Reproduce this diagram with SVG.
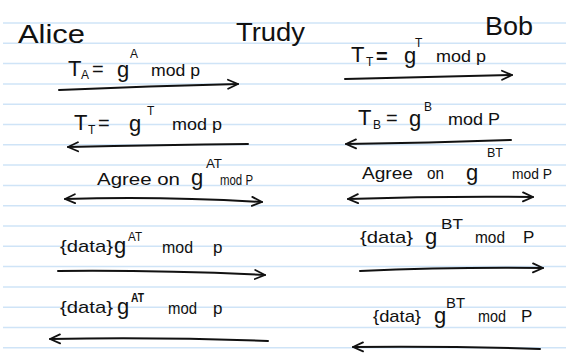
<svg xmlns="http://www.w3.org/2000/svg" width="566" height="356" viewBox="0 0 566 356">
<style>
.rule{stroke:#cfe4f7;stroke-width:1.5}
.t{font-family:"Liberation Sans","DejaVu Sans",sans-serif;fill:#111;font-size:20px}
.big{font-size:26px}
.c{font-size:22px}
.s{font-size:12px}
.m{font-size:17px}
.w{stroke:#111;stroke-width:2;fill:none;stroke-linecap:round}
</style>
<defs>
<marker id="ah" viewBox="0 0 12 12" refX="11" refY="6" markerWidth="12" markerHeight="12" markerUnits="userSpaceOnUse" orient="auto-start-reverse">
<path d="M1,1.5 L11,6 L1,10.5" fill="none" stroke="#111" stroke-width="1.8" stroke-linecap="round" stroke-linejoin="round"/>
</marker>
</defs>
<rect width="566" height="356" fill="#fff"/>
<g id="paper">
<line class="rule" x1="3" y1="23" x2="566" y2="23"/>
<line class="rule" x1="3" y1="43.3" x2="566" y2="43.3"/>
<line class="rule" x1="3" y1="63.6" x2="566" y2="63.6"/>
<line class="rule" x1="3" y1="83.9" x2="566" y2="83.9"/>
<line class="rule" x1="3" y1="104.2" x2="566" y2="104.2"/>
<line class="rule" x1="3" y1="124.5" x2="566" y2="124.5"/>
<line class="rule" x1="3" y1="144.8" x2="566" y2="144.8"/>
<line class="rule" x1="3" y1="165.1" x2="566" y2="165.1"/>
<line class="rule" x1="3" y1="185.4" x2="566" y2="185.4"/>
<line class="rule" x1="3" y1="205.7" x2="566" y2="205.7"/>
<line class="rule" x1="3" y1="226" x2="566" y2="226"/>
<line class="rule" x1="3" y1="246.3" x2="566" y2="246.3"/>
<line class="rule" x1="3" y1="266.6" x2="566" y2="266.6"/>
<line class="rule" x1="3" y1="286.9" x2="566" y2="286.9"/>
<line class="rule" x1="3" y1="307.2" x2="566" y2="307.2"/>
<line class="rule" x1="3" y1="327.5" x2="566" y2="327.5"/>
<line class="rule" x1="3" y1="347.8" x2="566" y2="347.8"/>
</g>
<g id="alice"><text class="t big" x="18" y="43" textLength="67" lengthAdjust="spacingAndGlyphs">Alice</text></g>
<g id="trudy"><text class="t big" x="236" y="41" textLength="69" lengthAdjust="spacingAndGlyphs">Trudy</text></g>
<g id="bob"><text class="t big" x="485" y="35" textLength="48" lengthAdjust="spacingAndGlyphs">Bob</text></g>

<g id="connectors">
<path class="w" d="M59,90 Q150,86 238,84" marker-end="url(#ah)"/>
<path class="w" d="M248,144 Q160,145 68,147" marker-end="url(#ah)"/>
<path class="w" d="M65,199 Q160,196 262,202" marker-start="url(#ah)" marker-end="url(#ah)"/>
<path class="w" d="M58,271 Q160,270 265,275" marker-end="url(#ah)"/>
<path class="w" d="M268,341 Q160,337 50,339" marker-end="url(#ah)"/>
<path class="w" d="M345,79 Q430,77 512,75" marker-end="url(#ah)"/>
<path class="w" d="M511,140 Q430,143 346,144" marker-end="url(#ah)"/>
<path class="w" d="M348,199 Q440,196 533,197" marker-start="url(#ah)" marker-end="url(#ah)"/>
<path class="w" d="M360,271 Q450,267 543,268" marker-end="url(#ah)"/>
<path class="w" d="M540,349 Q450,346 353,347" marker-end="url(#ah)"/>
</g>

<g id="msg-l1">
<text class="t c" x="68" y="76">T</text><text class="t s" x="81" y="79">A</text><text class="t" x="92" y="76">=</text>
<text class="t c" x="117" y="77">g</text><text class="t s" x="130" y="58">A</text>
<text class="t m" x="151" y="76" textLength="49" lengthAdjust="spacingAndGlyphs">mod p</text>
</g>
<g id="msg-l2">
<text class="t c" x="74" y="130">T</text><text class="t s" x="88" y="134">T</text><text class="t" x="98" y="130">=</text>
<text class="t c" x="129" y="131">g</text><text class="t s" x="147" y="115">T</text>
<text class="t m" x="172" y="130" textLength="50" lengthAdjust="spacingAndGlyphs">mod p</text>
</g>
<g id="msg-l3">
<text class="t m" x="97" y="185" textLength="83" lengthAdjust="spacingAndGlyphs">Agree on</text>
<text class="t c" x="191" y="185">g</text><text class="t s" x="206" y="168" textLength="16" lengthAdjust="spacingAndGlyphs">AT</text>
<text class="t" x="220" y="185" style="font-size:15px" textLength="33" lengthAdjust="spacingAndGlyphs">mod P</text>
</g>
<g id="msg-l4">
<text class="t m" x="60" y="252" textLength="53" lengthAdjust="spacingAndGlyphs">{data}</text>
<text class="t c" x="114" y="253">g</text><text class="t s" x="128" y="241" textLength="14" lengthAdjust="spacingAndGlyphs">AT</text>
<text class="t m" x="162" y="253" textLength="31" lengthAdjust="spacingAndGlyphs">mod</text>
<text class="t m" x="213" y="253">p</text>
</g>
<g id="msg-l5">
<text class="t m" x="60" y="313" textLength="53" lengthAdjust="spacingAndGlyphs">{data}</text>
<text class="t c" x="117" y="314">g</text><text class="t s" x="131" y="302" font-weight="bold" textLength="13" lengthAdjust="spacingAndGlyphs">AT</text>
<text class="t m" x="168" y="314" textLength="29" lengthAdjust="spacingAndGlyphs">mod</text>
<text class="t m" x="213" y="314">p</text>
</g>

<g id="msg-r1">
<text class="t c" x="351" y="62">T</text><text class="t s" x="366" y="66">T</text><text class="t" x="376" y="63" font-weight="bold">=</text>
<text class="t c" x="404" y="63">g</text><text class="t s" x="415" y="47">T</text>
<text class="t m" x="436" y="62" textLength="50" lengthAdjust="spacingAndGlyphs">mod p</text>
</g>
<g id="msg-r2">
<text class="t c" x="358" y="125">T</text><text class="t s" x="373" y="129">B</text><text class="t" x="386" y="125">=</text>
<text class="t c" x="409" y="126">g</text><text class="t s" x="424" y="111">B</text>
<text class="t m" x="448" y="125" textLength="52" lengthAdjust="spacingAndGlyphs">mod P</text>
</g>
<g id="msg-r3">
<text class="t m" x="362" y="179" textLength="51" lengthAdjust="spacingAndGlyphs">Agree</text>
<text class="t m" x="427" y="179" textLength="17" lengthAdjust="spacingAndGlyphs">on</text>
<text class="t c" x="466" y="180">g</text><text class="t s" x="487" y="157" textLength="16" lengthAdjust="spacingAndGlyphs">BT</text>
<text class="t" x="512" y="179" style="font-size:15px" textLength="40" lengthAdjust="spacingAndGlyphs">mod P</text>
</g>
<g id="msg-r4">
<text class="t m" x="360" y="243" textLength="53" lengthAdjust="spacingAndGlyphs">{data}</text>
<text class="t c" x="425" y="244">g</text><text class="t" x="441" y="229" style="font-size:15px" textLength="22" lengthAdjust="spacingAndGlyphs">BT</text>
<text class="t m" x="475" y="243" textLength="30" lengthAdjust="spacingAndGlyphs">mod</text>
<text class="t m" x="523" y="243">P</text>
</g>
<g id="msg-r5">
<text class="t m" x="373" y="322" textLength="48" lengthAdjust="spacingAndGlyphs">{data}</text>
<text class="t c" x="434" y="323">g</text><text class="t" x="446" y="308" style="font-size:15px" textLength="19" lengthAdjust="spacingAndGlyphs">BT</text>
<text class="t m" x="478" y="322" textLength="28" lengthAdjust="spacingAndGlyphs">mod</text>
<text class="t m" x="521" y="322">P</text>
</g>
</svg>
